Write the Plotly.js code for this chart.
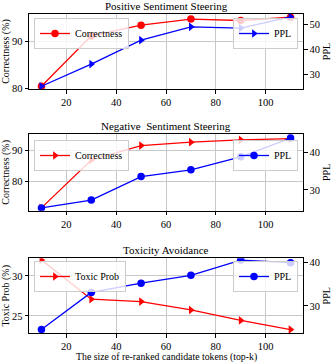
<!DOCTYPE html>
<html>
<head>
<meta charset="utf-8">
<script src="https://cdn.plot.ly/plotly-3.0.1.min.js"></script>
<style>
  html, body { margin: 0; padding: 0; background: #fff; }
  #chart { width: 332px; height: 362px; }
</style>
</head>
<body>
<div id="chart"></div>
<script>
var topK = [10, 30, 50, 70, 90, 110];

// Positive sentiment steering
var posCorrect = [80.4, 91.2, 93.5, 94.8, 94.5, 95.2];
var posPPL = [25.4, 34.2, 43.7, 49.0, 48.5, 53.0];

// Negative sentiment steering
var negCorrect = [71.6, 86.9, 91.5, 92.6, 93.3, 93.7];
var negPPL = [25.2, 27.3, 33.6, 35.4, 38.9, 43.9];

// Toxicity avoidance
var toxProb = [32.0, 27.1, 26.8, 25.75, 24.45, 23.3];
var toxPPL = [24.6, 33.1, 35.2, 37.0, 40.5, 39.9];

var FONT = 'Liberation Serif, Times New Roman, serif';
var RED = '#ff0000', BLUE = '#0000ff';

function trace(y, name, color, symbol, xa, ya, leg) {
  return {
    x: topK, y: y, name: name, type: 'scatter', mode: 'lines+markers',
    xaxis: xa, yaxis: ya, legend: leg,
    line: {color: color, width: 1.3},
    marker: {color: color, symbol: symbol, size: 7.5}
  };
}

var data = [
  trace(posCorrect, 'Correctness', RED, 'circle', 'x', 'y', 'legend'),
  trace(posPPL, 'PPL', BLUE, 'triangle-right', 'x', 'y2', 'legend2'),
  trace(negCorrect, 'Correctness', RED, 'triangle-right', 'x2', 'y3', 'legend3'),
  trace(negPPL, 'PPL', BLUE, 'circle', 'x2', 'y4', 'legend4'),
  trace(toxProb, 'Toxic Prob', RED, 'triangle-right', 'x3', 'y5', 'legend5'),
  trace(toxPPL, 'PPL', BLUE, 'circle', 'x3', 'y6', 'legend6')
];

var xDomain = [29 / 332, 303 / 332];
var rows = [[1 - 89 / 362, 1 - 14 / 362], [1 - 210.7 / 362, 1 - 134 / 362], [1 - 333.3 / 362, 1 - 258.3 / 362]];

function xax(anchor) {
  return {
    domain: xDomain, anchor: anchor, range: [5, 115], dtick: 20, tick0: 0,
    showline: true, mirror: true, linecolor: '#000', linewidth: 1,
    ticks: 'outside', ticklen: 3.5, tickcolor: '#000',
    showgrid: true, gridcolor: '#c8c8c8', gridwidth: 1, zeroline: false,
    tickfont: {family: FONT, size: 10.5, color: '#000'}
  };
}

function yleft(row, anchor, range, dtick, title) {
  return {
    domain: rows[row], anchor: anchor, range: range, dtick: dtick, tick0: 0,
    showline: true, linecolor: '#000', linewidth: 1,
    ticks: 'outside', ticklen: 3.5, tickcolor: '#000',
    showgrid: true, gridcolor: '#c8c8c8', gridwidth: 1, zeroline: false,
    tickfont: {family: FONT, size: 10.5, color: '#000'},
    title: {text: title, font: {family: FONT, size: 10, color: '#000'}, standoff: 3}
  };
}

function yright(row, anchor, overlay, range) {
  return {
    domain: rows[row], anchor: anchor, overlaying: overlay, side: 'right',
    range: range, dtick: 10, tick0: 0,
    showline: true, linecolor: '#000', linewidth: 1,
    ticks: 'outside', ticklen: 3.5, tickcolor: '#000',
    showgrid: false, zeroline: false,
    tickfont: {family: FONT, size: 10.5, color: '#000'},
    title: {text: 'PPL', font: {family: FONT, size: 10, color: '#000'}, standoff: 4}
  };
}

function leg(x, y, xanchor) {
  return {
    x: x, y: y, xanchor: xanchor, yanchor: 'top', xref: 'paper', yref: 'paper',
    bgcolor: 'rgba(255,255,255,0.8)', bordercolor: '#cccccc', borderwidth: 1,
    font: {family: FONT, size: 10, color: '#000'}, itemwidth: 30,
    tracegroupgap: 0
  };
}

function ttl(text, yPx, size) {
  return {
    text: text, x: 0.5, y: 1 - yPx / 362, xref: 'paper', yref: 'paper',
    showarrow: false, xanchor: 'center', yanchor: 'middle',
    font: {family: FONT, size: size, color: '#000'}
  };
}

var layout = {
  width: 332, height: 362,
  margin: {l: 0, r: 0, t: 0, b: 0},
  paper_bgcolor: '#fff', plot_bgcolor: '#fff',
  showlegend: true,
  xaxis: xax('y'),
  xaxis2: xax('y3'),
  xaxis3: xax('y5'),
  yaxis: yleft(0, 'x', [79.8, 95.9], 10, 'Correctness (%)'),
  yaxis2: yright(0, 'x', 'y', [24.3, 54.1]),
  yaxis3: yleft(1, 'x2', [70.7, 95.2], 10, 'Correctness (%)'),
  yaxis4: yright(1, 'x2', 'y3', [24.45, 45.0]),
  yaxis5: yleft(2, 'x3', [22.84, 32.2], 5, 'Toxic Prob (%)'),
  yaxis6: yright(2, 'x3', 'y5', [23.75, 40.9]),
  legend: leg(34 / 332, 1 - 18 / 362, 'left'),
  legend2: leg(298 / 332, 1 - 18 / 362, 'right'),
  legend3: leg(34 / 332, 1 - 140 / 362, 'left'),
  legend4: leg(298 / 332, 1 - 140 / 362, 'right'),
  legend5: leg(34 / 332, 1 - 261 / 362, 'left'),
  legend6: leg(298 / 332, 1 - 261 / 362, 'right'),
  annotations: [
    ttl('Positive Sentiment Steering', 6, 11),
    ttl('Negative  Sentiment Steering', 126, 11),
    ttl('Toxicity Avoidance', 250, 11),
    {
      text: 'The size of re-ranked candidate tokens (top-k)',
      x: 166 / 332, y: 1 - 357 / 362, xref: 'paper', yref: 'paper',
      showarrow: false, xanchor: 'center', yanchor: 'middle',
      font: {family: FONT, size: 9.8, color: '#000'}
    }
  ]
};

Plotly.newPlot('chart', data, layout, {displayModeBar: false, staticPlot: true});
</script>
</body>
</html>
